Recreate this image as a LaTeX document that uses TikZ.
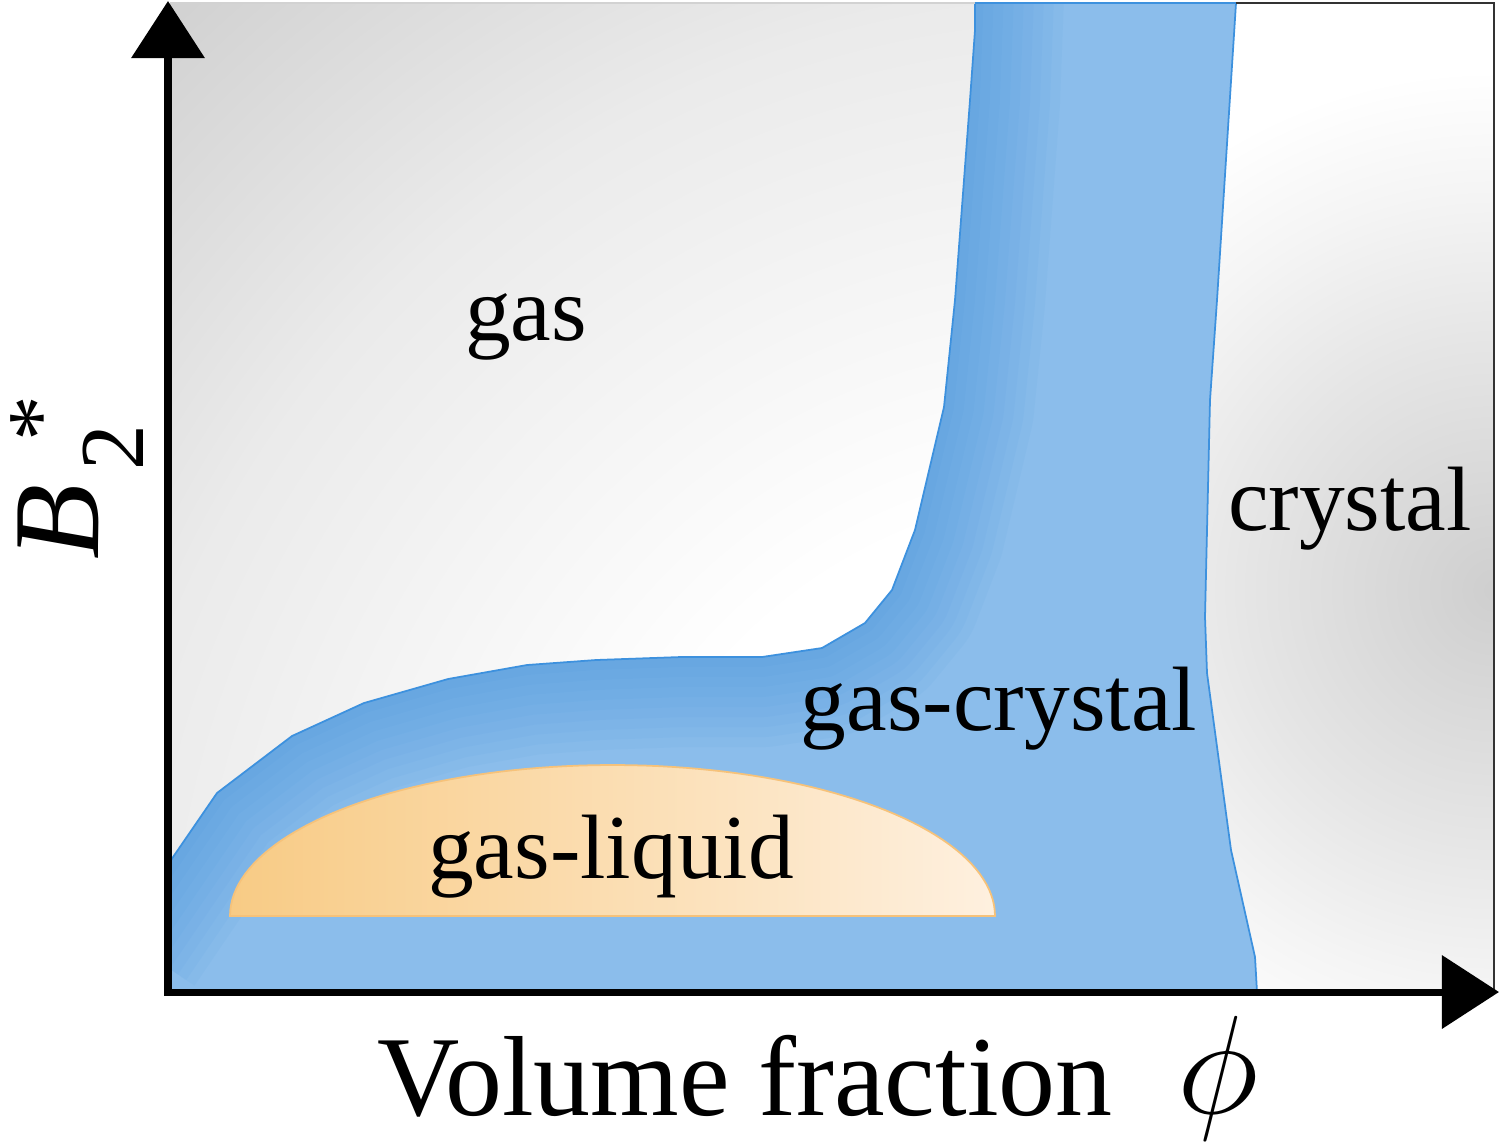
\documentclass[tikz,border=0pt]{standalone}
\usepackage{fontspec}
\setmainfont{Liberation Serif}
\usetikzlibrary{arrows.meta}
\definecolor{bluelight}{HTML}{8BBDEB}
\definecolor{bluedark}{HTML}{4A97DC}
\definecolor{blueline}{HTML}{3D91DE}
\definecolor{orangeA}{HTML}{F8CB85}
\definecolor{orangeB}{HTML}{FEF0DF}
\definecolor{orangeline}{HTML}{F6C27A}
\pgfdeclareradialshading{bgshade}{\pgfpoint{0bp}{0bp}}{%
  color(0bp)=(white); color(8.3bp)=(white); color(16.7bp)=(black!8);
  color(22.7bp)=(black!18); color(50bp)=(black!30)}
\pgfdeclareradialshading{crshade}{\pgfpoint{0bp}{0bp}}{%
  color(0bp)=(black!19); color(10.4bp)=(black!10); color(16.7bp)=(black!4);
  color(21.7bp)=(white); color(50bp)=(white)}
\begin{document}
\begin{tikzpicture}[x=0.01cm,y=-0.01cm,
  lbl/.style={font=\fontsize{26}{30}\selectfont, anchor=base, inner sep=0},
  axisline/.style={line width=2pt, -{Triangle[length=5.7mm,width=7.2mm]}}]
\useasboundingbox (0,0) rectangle (1500,1144);
% background of the plot area
\begin{scope}
  \clip (170,3) rectangle (1494,992);
  \shade[shading=bgshade] (1100,1000) circle (1500);
\end{scope}
% crystal region
\begin{scope}
  \clip (1236,3) -- (1217,300) -- (1210,400) -- (1205,617) -- (1207,673) -- (1231,850) -- (1255,957) -- (1257,992) -- (1494,992) -- (1494,3) -- cycle;
  \fill[white] (1200,0) rectangle (1500,1000);
  \shade[shading=crshade] (1494,590) circle (600);
\end{scope}
% gas-crystal region
\path[fill=bluelight] (171,992) -- (171,860) -- (217,793) -- (292,736) -- (364,703) -- (448,679) -- (527,665) -- (596,660) -- (681,657) -- (762,657) -- (822,648) -- (865,623) -- (892,590) -- (915,530) -- (944,407) -- (955,300) -- (970,100) -- (975,30) -- (975,3)
  -- (1236,3) -- (1217,300) -- (1210,400) -- (1205,617) -- (1207,673) -- (1231,850) -- (1255,957) -- (1257,992) -- cycle;
\begin{scope}
  \clip (171,992) -- (171,860) -- (217,793) -- (292,736) -- (364,703) -- (448,679) -- (527,665) -- (596,660) -- (681,657) -- (762,657) -- (822,648) -- (865,623) -- (892,590) -- (915,530) -- (944,407) -- (955,300) -- (970,100) -- (975,30) -- (975,3)
  -- (1236,3) -- (1217,300) -- (1210,400) -- (1205,617) -- (1207,673) -- (1231,850) -- (1255,957) -- (1257,992) -- cycle;
  \foreach \w in {2,4,...,18}
    \draw[bluedark, line width=\w mm, opacity=0.07, line join=round]
      (120,935) -- (171,860) -- (217,793) -- (292,736) -- (364,703) -- (448,679) -- (527,665) -- (596,660) -- (681,657) -- (762,657) -- (822,648) -- (865,623) -- (892,590) -- (915,530) -- (944,407) -- (955,300) -- (970,100) -- (976,-60);
\end{scope}
\draw[blueline, line width=0.5pt, line join=round] (171,860) -- (217,793) -- (292,736) -- (364,703) -- (448,679) -- (527,665) -- (596,660) -- (681,657) -- (762,657) -- (822,648) -- (865,623) -- (892,590) -- (915,530) -- (944,407) -- (955,300) -- (970,100) -- (975,30) -- (975,3)
  -- (1236,3) -- (1217,300) -- (1210,400) -- (1205,617) -- (1207,673) -- (1231,850) -- (1255,957) -- (1257,992);
% gas-liquid region
\shade[left color=orangeA, right color=orangeB, draw=orangeline, line width=0.5pt]
  plot[domain=180:0, samples=90] ({612.5+382.5*cos(\x)}, {916-151*sin(\x)}) -- cycle;
% frame
\draw[gray!35, line width=0.6pt] (170,3) -- (975,3);
\draw[black!80, line width=0.8pt] (1236,3) -- (1494,3) -- (1494,992);
% axes
\coordinate (O) at (168,992);
\coordinate (ytip) at (168,1);
\coordinate (xstart) at (164,992);
\coordinate (xtip) at (1499,992);
\coordinate (ystart) at (168,995);
\draw[axisline] (ystart) -- (ytip);
\draw[axisline] (xstart) -- (xtip);
% labels
\node[lbl] (gas) at (526,340) {gas};
\node[lbl] (crystal) at (1350,530) {crystal};
\node[lbl] (gascrystal) at (999,730) {gas-crystal};
\node[lbl] (gasliquid) at (611,878) {gas-liquid};
\node[anchor=base, inner sep=0, font=\fontsize{32.4}{36}\selectfont] (xlab) at (745,1115) {Volume fraction};
\node[anchor=base, inner sep=0] (phi) at (1218,1113) {\scalebox{1.6}{\fontsize{24.88}{28}\selectfont$\phi$}};
\node[rotate=90, anchor=base west, inner sep=0] (ylab) at (98,560)
  {\fontsize{35}{40}\selectfont\textit{B}\kern4pt\raisebox{-13pt}{\fontsize{26}{26}\selectfont 2}\kern-5pt\raisebox{7.8pt}{\fontsize{26}{26}\selectfont *}};
\end{tikzpicture}
\end{document}
